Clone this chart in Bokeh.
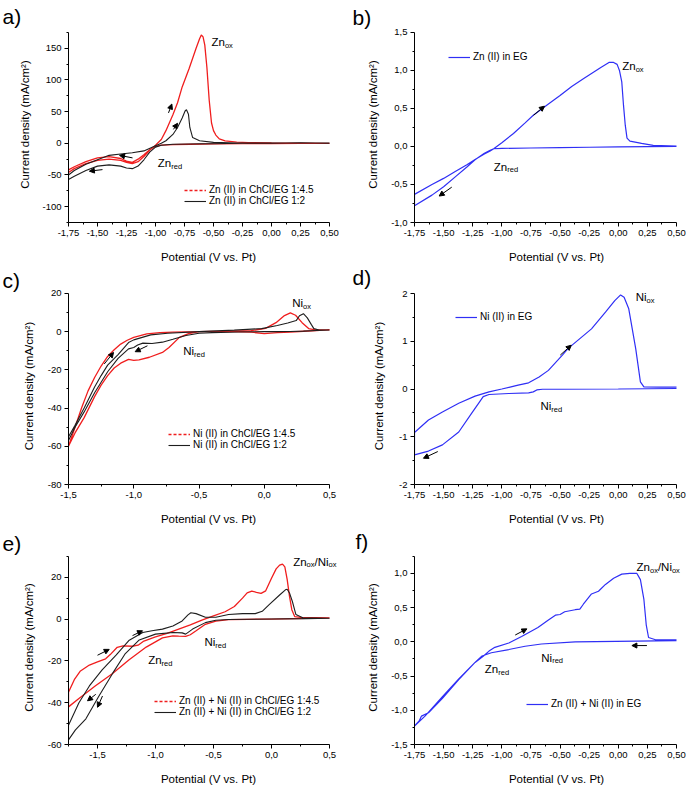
from bokeh.plotting import figure
from bokeh.models import (Range1d, FixedTicker, CustomJSTickFormatter, Label, Legend,
                          LegendItem, Arrow, NormalHead, Title)
from bokeh.layouts import column, row
from bokeh.embed import file_html
from bokeh.resources import INLINE

FONT = "Liberation Sans"
RED = "#f01e1e"
BLACK = "#1e1e1e"
BLUE = "#2f2ff5"

# ---------------- data (V vs Pt, mA/cm2) ----------------
# a) Zn(II) in ChCl/EG
a_red_cat_x = [0.50, 0.25, 0.00, -0.25, -0.50, -0.70, -0.85, -0.95, -1.00, -1.05, -1.10, -1.15, -1.20, -1.25, -1.30, -1.40, -1.50, -1.60, -1.70, -1.75]
a_red_cat_y = [0.0, 0.0, -0.3, -0.6, -1.0, -1.5, -2.0, -3.0, -5.0, -10.0, -18.0, -25.0, -30.0, -28.0, -24.0, -21.0, -23.0, -29.0, -37.0, -42.0]
a_red_an_x = [-1.75, -1.70, -1.60, -1.50, -1.40, -1.30, -1.25, -1.20, -1.15, -1.10, -1.05, -1.00, -0.95, -0.91, -0.85, -0.81, -0.77, -0.71, -0.65, -0.62, -0.605, -0.59, -0.575, -0.557, -0.537, -0.517, -0.50, -0.48, -0.45, -0.40, -0.30, -0.20, 0.00, 0.25, 0.50]
a_red_an_y = [-46, -40, -32, -27, -25, -27, -30, -32, -29, -21, -11, -3, 6, 20, 45, 64, 89, 118, 150, 165, 171, 168, 155, 120, 68, 32, 20, 13, 7, 4, 2, 1.2, 0.6, 0.3, 0.0]
a_blk_cat_x = [0.50, 0.25, 0.00, -0.25, -0.50, -0.70, -0.85, -0.95, -1.00, -1.05, -1.10, -1.15, -1.20, -1.25, -1.30, -1.40, -1.50, -1.60, -1.70, -1.75]
a_blk_cat_y = [0.5, 0.8, 0.5, 0.0, -0.5, -1.0, -1.5, -3.0, -6.0, -14.0, -26.0, -36.0, -40.0, -39.0, -36.0, -34.0, -36.0, -43.0, -52.0, -57.0]
a_blk_an_x = [-1.75, -1.70, -1.60, -1.50, -1.40, -1.30, -1.20, -1.10, -1.00, -0.95, -0.91, -0.85, -0.81, -0.77, -0.745, -0.733, -0.716, -0.704, -0.68, -0.62, -0.50, -0.30, 0.00, 0.25, 0.50]
a_blk_an_y = [-50, -43, -33, -26, -19, -17, -15, -12, -4, 0, 4, 14, 25, 40, 51, 53, 46, 25, 9, 4, 1.5, 0.5, 0.2, 0.8, 0.0]

# b) Zn(II) in EG
b_cat_x = [0.50, 0.25, 0.00, -0.25, -0.50, -0.75, -1.00, -1.07, -1.10, -1.15, -1.23, -1.30, -1.40, -1.50, -1.60, -1.75]
b_cat_y = [0.0, -0.003, -0.006, -0.01, -0.015, -0.02, -0.025, -0.03, -0.05, -0.09, -0.175, -0.27, -0.40, -0.53, -0.64, -0.78]
b_an_x = [-1.75, -1.60, -1.50, -1.40, -1.30, -1.23, -1.15, -1.10, -1.07, -1.00, -0.90, -0.80, -0.73, -0.60, -0.50, -0.40, -0.30, -0.20, -0.15, -0.08, -0.04, -0.01, 0.01, 0.03, 0.045, 0.06, 0.075, 0.10, 0.20, 0.30, 0.50]
b_an_y = [-0.63, -0.50, -0.42, -0.33, -0.24, -0.17, -0.10, -0.06, -0.03, 0.05, 0.17, 0.31, 0.41, 0.56, 0.67, 0.79, 0.89, 0.99, 1.04, 1.105, 1.105, 1.08, 1.0, 0.85, 0.54, 0.28, 0.11, 0.07, 0.04, 0.015, 0.005]

# c) Ni(II) in ChCl/EG
c_red_cat_x = [0.50, 0.45, 0.40, 0.30, 0.20, 0.10, 0.00, -0.10, -0.30, -0.50, -0.58, -0.65, -0.73, -0.78, -0.88, -0.96, -1.00, -1.04, -1.10, -1.15, -1.20, -1.25, -1.30, -1.38, -1.45, -1.50]
c_red_cat_y = [1.0, 0.8, 0.5, 0.2, -0.2, -0.5, -1.0, -0.3, 0.2, 0.0, -1.0, -3.0, -8.3, -10.9, -13.4, -14.8, -15.0, -14.5, -16.5, -19.0, -23.0, -28.0, -34.0, -45.0, -53.0, -60.0]
c_red_an_x = [-1.50, -1.45, -1.40, -1.35, -1.30, -1.25, -1.20, -1.15, -1.10, -1.05, -1.00, -0.90, -0.80, -0.70, -0.50, -0.30, -0.10, 0.01, 0.09, 0.155, 0.20, 0.24, 0.29, 0.34, 0.39, 0.50]
c_red_an_y = [-60, -50, -40, -31, -24, -18, -13, -9.5, -6.5, -4.5, -3.0, -1.2, -0.5, -0.2, 0.0, 0.2, 0.5, 1.7, 4.7, 8.4, 9.8, 8.6, 4.7, 1.6, 0.9, 0.9]
c_blk_cat_x = [0.50, 0.40, 0.30, 0.20, 0.10, 0.00, -0.20, -0.40, -0.50, -0.60, -0.70, -0.78, -0.86, -0.93, -0.97, -1.00, -1.04, -1.12, -1.20, -1.25, -1.30, -1.38, -1.45, -1.50]
c_blk_cat_y = [0.9, 0.6, 0.3, 0.1, 0.0, 0.0, -0.2, -0.5, -0.8, -2.0, -4.0, -5.5, -6.2, -6.0, -7.0, -8.3, -9.0, -14.0, -21.0, -26.5, -32.0, -42.0, -50.0, -57.0]
c_blk_an_x = [-1.50, -1.45, -1.38, -1.30, -1.25, -1.20, -1.12, -1.04, -1.00, -0.87, -0.74, -0.50, -0.23, -0.02, 0.10, 0.18, 0.245, 0.27, 0.30, 0.33, 0.36, 0.38, 0.42, 0.50]
c_blk_an_y = [-55, -49, -40, -29, -23, -17.5, -12, -5.7, -4.3, -1.7, -0.8, 0.0, 0.8, 1.6, 3.2, 4.5, 5.8, 8.3, 9.4, 7.2, 3.8, 1.6, 0.9, 0.9]

# d) Ni(II) in EG
d_cat_x = [0.50, 0.00, -0.50, -0.65, -0.70, -0.73, -0.77, -0.94, -1.11, -1.16, -1.20, -1.26, -1.37, -1.51, -1.63, -1.75]
d_cat_y = [0.01, 0.0, -0.005, -0.005, -0.02, -0.06, -0.08, -0.094, -0.115, -0.16, -0.30, -0.51, -0.90, -1.17, -1.30, -1.38]
d_an_x = [-1.75, -1.63, -1.51, -1.37, -1.23, -1.11, -1.00, -0.86, -0.77, -0.68, -0.60, -0.48, -0.43, -0.23, -0.11, -0.03, 0.02, 0.05, 0.09, 0.15, 0.19, 0.22, 0.35, 0.50]
d_an_y = [-0.91, -0.65, -0.48, -0.30, -0.15, -0.06, 0.0, 0.08, 0.13, 0.25, 0.39, 0.71, 0.85, 1.26, 1.61, 1.85, 1.97, 1.92, 1.68, 0.84, 0.15, 0.045, 0.04, 0.04]

# e) Zn(II) + Ni(II) in ChCl/EG
e_red_cat_x = [0.50, 0.30, 0.00, -0.20, -0.37, -0.48, -0.57, -0.65, -0.70, -0.74, -0.80, -0.85, -0.94, -1.08, -1.23, -1.37, -1.52, -1.66, -1.75]
e_red_cat_y = [0.6, 0.3, 0.0, -0.1, -0.3, -1.0, -2.5, -5.6, -7.5, -8.3, -8.2, -8.0, -9.0, -13.4, -19.6, -26.0, -32.0, -38.0, -42.0]
e_red_an_x = [-1.75, -1.70, -1.65, -1.57, -1.50, -1.43, -1.39, -1.33, -1.28, -1.20, -1.15, -1.10, -1.00, -0.90, -0.80, -0.70, -0.60, -0.50, -0.40, -0.32, -0.25, -0.21, -0.17, -0.13, -0.09, -0.05, 0.00, 0.04, 0.07, 0.095, 0.115, 0.135, 0.155, 0.175, 0.20, 0.25, 0.50]
e_red_an_y = [-35, -29, -25, -22, -20.5, -19, -17, -13.5, -12.8, -13, -12.5, -10.5, -8.5, -6.8, -4.8, -2.8, -0.5, 1.5, 3.5, 6, 10, 12.5, 13.4, 12.8, 12.3, 13.5, 19.5, 24, 25.8, 26.3, 25, 19, 11, 4.5, 1.2, 0.8, 0.6]
e_blk_cat_x = [0.50, 0.30, 0.00, -0.20, -0.37, -0.48, -0.57, -0.68, -0.74, -0.77, -0.85, -1.00, -1.14, -1.26, -1.37, -1.49, -1.60, -1.69, -1.75]
e_blk_cat_y = [0.4, 0.2, 0.0, -0.1, -0.2, -0.6, -1.7, -4.8, -7.2, -6.6, -6.4, -7.2, -10.0, -16.5, -26.0, -37.0, -47.7, -53.0, -57.8]
e_blk_an_x = [-1.75, -1.66, -1.57, -1.46, -1.34, -1.23, -1.11, -1.03, -0.94, -0.85, -0.77, -0.72, -0.695, -0.65, -0.57, -0.48, -0.37, -0.25, -0.14, -0.08, -0.02, 0.07, 0.12, 0.135, 0.155, 0.18, 0.21, 0.27, 0.50]
e_blk_an_y = [-50.8, -40, -32, -24.3, -17.3, -10.3, -6.4, -5.6, -4.8, -3.3, -0.9, 2.0, 3.0, 2.6, 0.9, 0.9, 2.2, 2.6, 2.6, 3.7, 6.9, 11.5, 14.0, 14.3, 12.5, 8.4, 2.2, 0.6, 0.3]

# f) Zn(II) + Ni(II) in EG
f_cat_x = [0.50, -0.37, -0.66, -0.80, -0.94, -1.09, -1.17, -1.23, -1.37, -1.51, -1.63, -1.69, -1.71, -1.75]
f_cat_y = [0.017, 0.0, -0.031, -0.064, -0.112, -0.159, -0.207, -0.30, -0.553, -0.824, -1.037, -1.085, -1.156, -1.227]
f_an_x = [-1.75, -1.66, -1.51, -1.37, -1.23, -1.16, -1.11, -1.06, -0.94, -0.83, -0.69, -0.60, -0.54, -0.50, -0.46, -0.37, -0.33, -0.30, -0.23, -0.17, -0.11, -0.04, 0.03, 0.10, 0.16, 0.19, 0.22, 0.24, 0.26, 0.32, 0.50]
f_an_y = [-1.23, -1.085, -0.80, -0.54, -0.30, -0.21, -0.135, -0.08, -0.017, 0.078, 0.21, 0.32, 0.39, 0.40, 0.44, 0.47, 0.48, 0.55, 0.70, 0.74, 0.84, 0.93, 0.99, 1.0, 1.0, 0.91, 0.62, 0.25, 0.064, 0.031, 0.031]

# ticks
x_ticks_q = [-1.75, -1.5, -1.25, -1.0, -0.75, -0.5, -0.25, 0.0, 0.25, 0.5]
x_minor_q = [-1.625, -1.375, -1.125, -0.875, -0.625, -0.375, -0.125, 0.125, 0.375]
x_ticks_h = [-1.5, -1.0, -0.5, 0.0, 0.5]
x_minor_c = [-1.25, -0.75, -0.25, 0.25]
x_minor_e = [-1.75, -1.25, -0.75, -0.25, 0.25]
a_yticks = [-100, -50, 0, 50, 100, 150]
a_yminor = [-125, -75, -25, 25, 75, 125, 175]
b_yticks = [-1.0, -0.5, 0.0, 0.5, 1.0, 1.5]
b_yminor = [-0.75, -0.25, 0.25, 0.75, 1.25]
c_yticks = [-80, -60, -40, -20, 0, 20]
c_yminor = [-70, -50, -30, -10, 10]
d_yticks = [-2, -1, 0, 1, 2]
d_yminor = [-1.5, -0.5, 0.5, 1.5]
e_yticks = [-60, -40, -20, 0, 20]
e_yminor = [-50, -30, -10, 10, 30]
f_yticks = [-1.5, -1.0, -0.5, 0.0, 0.5, 1.0]
f_yminor = [-1.25, -0.75, -0.25, 0.25, 0.75, 1.25]

# annotations: (parts, x, y_baseline)
a_notes = [(["Zn", "_ox"], -0.517, 159.4), (["Zn", "_red"], -0.98, -31.6)]
b_notes = [(["Zn", "_ox"], 0.034, 1.057), (["Zn", "_red"], -1.069, -0.267)]
c_notes = [(["Ni", "_ox"], 0.214, 14.8), (["Ni", "_red"], -0.621, -10.2)]
d_notes = [(["Ni", "_ox"], 0.149, 1.917), (["Ni", "_red"], -0.668, -0.359)]
e_notes = [(["Zn", "_ox", "/Ni", "_ox"], 0.187, 27.4), (["Ni", "_red"], -0.578, -11.2), (["Zn", "_red"], -1.063, -19.8)]
f_notes = [(["Zn", "_ox", "/Ni", "_ox"], 0.157, 1.094), (["Ni", "_red"], -0.661, -0.235), (["Zn", "_red"], -1.146, -0.40)]

a_arrows = [(-0.888, 48, -0.859, 62), (-0.845, 22, -0.81, 31.6), (-1.198, -23, -1.31, -19), (-1.457, -41.5, -1.57, -44)]
b_arrows = [(-0.728, 0.41, -0.634, 0.53), (-1.43, -0.535, -1.538, -0.652)]
c_arrows = [(-1.226, -16.9, -1.155, -10.9), (-0.895, -7.4, -0.989, -10.5)]
d_arrows = [(-0.498, 0.71, -0.404, 0.917), (-1.55, -1.31, -1.673, -1.45)]
e_arrows = [(-1.198, -7.9, -1.112, -5.6), (-1.5, -17.3, -1.399, -14.5), (-1.515, -36, -1.586, -39.1), (-1.457, -36.8, -1.5, -42.2)]
f_arrows = [(-0.885, 0.10, -0.785, 0.19), (0.246, -0.054, 0.117, -0.054)]

CW = {"Z": .611, "n": .556, "N": .722, "i": .222, "o": .556, "x": .5, "r": .333,
      "e": .556, "d": .556, "/": .278}
MAIN_FS = 11.5
SUB_FS = 7.5
FIG_W = 350
FIG_H = 265


def twidth(s, fs):
    return sum(CW.get(ch, .55) for ch in s) * fs


def make_panel(fx0, fy0, geo, xr, yr, xt, xm, xdec, yt, ym, ydec, ystand,
               letter, l_off, l_stand):
    # geo: frame_left, axis_right, frame_right, axis_top, frame_top, axis_bottom (page px)
    fl, ar, fr, at, ft, ab = geo
    sx = (ar - fl) / (xr[1] - xr[0])
    sy = (ab - at) / (yr[1] - yr[0])
    x_end = xr[1] + (fr - ar) / sx
    y_end = yr[1] + (at - ft) / sy
    p = figure(width=FIG_W, height=FIG_H, output_backend="svg", toolbar_location=None,
               x_range=Range1d(xr[0], x_end), y_range=Range1d(yr[0], y_end),
               min_border_left=fl - fx0, min_border_right=fx0 + FIG_W - fr,
               min_border_top=ft - fy0, min_border_bottom=fy0 + FIG_H - ab)
    p.outline_line_color = None
    p.xgrid.visible = False
    p.ygrid.visible = False
    p.background_fill_color = "white"
    p.border_fill_color = "white"
    p.xaxis.bounds = xr
    p.yaxis.bounds = yr
    p.xaxis.ticker = FixedTicker(ticks=xt, minor_ticks=xm)
    p.yaxis.ticker = FixedTicker(ticks=yt, minor_ticks=ym)
    p.xaxis.formatter = CustomJSTickFormatter(args=dict(d=xdec),
                                              code="return tick.toFixed(d).replace('.', ',');")
    p.yaxis.formatter = CustomJSTickFormatter(args=dict(d=ydec),
                                              code="return tick.toFixed(d).replace('.', ',');")
    p.xaxis.axis_label = "Potential (V vs. Pt)"
    p.yaxis.axis_label = "Current density (mA/cm²)"
    for ax in (p.xaxis, p.yaxis):
        ax.axis_line_color = "black"
        ax.major_tick_line_color = "black"
        ax.minor_tick_line_color = "black"
        ax.major_tick_in = 0
        ax.major_tick_out = 4
        ax.minor_tick_in = 0
        ax.minor_tick_out = 2
        ax.major_label_text_font = FONT
        ax.major_label_text_font_size = "9.5px"
        ax.major_label_text_color = "black"
        ax.major_label_standoff = 3
        ax.axis_label_text_font = FONT
        ax.axis_label_text_font_size = "11.5px"
        ax.axis_label_text_font_style = "normal"
        ax.axis_label_text_color = "black"
    p.xaxis.axis_label_standoff = 12
    p.yaxis.axis_label_standoff = ystand
    p.title = Title(text=letter, align="left", offset=l_off, standoff=l_stand,
                    text_font=FONT, text_font_size="21px", text_font_style="normal",
                    text_color="black")
    return p


def add_notes(p, notes):
    for parts, x, y in notes:
        off = 0.0
        for part in parts:
            if part.startswith("_"):
                t = part[1:]
                p.add_layout(Label(x=x, y=y, x_offset=off, y_offset=-3, text=t,
                                   text_font=FONT, text_font_size=f"{SUB_FS}px",
                                   text_baseline="alphabetic", text_color="black"))
                off += twidth(t, SUB_FS)
            else:
                p.add_layout(Label(x=x, y=y, x_offset=off, text=part,
                                   text_font=FONT, text_font_size=f"{MAIN_FS}px",
                                   text_baseline="alphabetic", text_color="black"))
                off += twidth(part, MAIN_FS)


def add_arrows(p, arrows):
    for x0, y0, x1, y1 in arrows:
        p.add_layout(Arrow(end=NormalHead(size=5, line_color="black", fill_color="black", line_width=1),
                           x_start=x0, y_start=y0, x_end=x1, y_end=y1,
                           line_color="black", line_width=1))


def add_legend(p, items, loc):
    lg = Legend(items=items, location=loc, border_line_color=None, background_fill_alpha=0,
                padding=0, margin=0, spacing=0, glyph_width=22, glyph_height=10,
                label_height=10, label_standoff=3, label_text_font=FONT,
                label_text_font_size="10px", label_text_color="black")
    p.add_layout(lg)


def cv(p, cat_x, cat_y, an_x, an_y, color, lw):
    return p.line(cat_x + an_x, cat_y + an_y, line_color=color, line_width=lw)


def dashed_key(p, xs, ys):
    # one-point line: draws nothing in the plot, only gives the legend its dashed key
    return p.line(xs[:1], ys[:1], line_color=RED, line_width=1.5, line_dash="3 2")


XQ = (-1.75, 0.5)

# ---- a
pa = make_panel(0, 0, (68, 329, 348, 32, 26, 224), XQ, (-125, 175), x_ticks_q, x_minor_q, 2,
                a_yticks, a_yminor, 0, 8, "a)", -66, -3)
cv(pa, a_red_cat_x, a_red_cat_y, a_red_an_x, a_red_an_y, RED, 1.3)
ra_blk = cv(pa, a_blk_cat_x, a_blk_cat_y, a_blk_an_x, a_blk_an_y, BLACK, 1.1)
la_red = dashed_key(pa, a_red_cat_x, a_red_cat_y)
add_legend(pa, [LegendItem(label="Zn (II) in ChCl/EG 1:4.5", renderers=[la_red]),
                LegendItem(label="Zn (II) in ChCl/EG 1:2", renderers=[ra_blk])], (116, 16))
add_notes(pa, a_notes)
add_arrows(pa, a_arrows)

# ---- b
pb = make_panel(350, 0, (414, 676, 698, 31, 25, 223), XQ, (-1.0, 1.5), x_ticks_q, x_minor_q, 2,
                b_yticks, b_yminor, 1, 9, "b)", -62, -4)
rb = cv(pb, b_cat_x, b_cat_y, b_an_x, b_an_y, BLUE, 1.2)
add_legend(pb, [LegendItem(label="Zn (II) in EG", renderers=[rb])], (34, 160))
add_notes(pb, b_notes)
add_arrows(pb, b_arrows)

# ---- c
pc = make_panel(0, 265, (68, 329, 348, 292, 286, 485), (-1.5, 0.5), (-80, 20), x_ticks_h, x_minor_c, 1,
                c_yticks, c_yminor, 0, 10, "c)", -66, -9)
cv(pc, c_red_cat_x, c_red_cat_y, c_red_an_x, c_red_an_y, RED, 1.3)
rc_blk = cv(pc, c_blk_cat_x, c_blk_cat_y, c_blk_an_x, c_blk_an_y, BLACK, 1.1)
lc_red = dashed_key(pc, c_red_cat_x, c_red_cat_y)
add_legend(pc, [LegendItem(label="Ni (II) in ChCl/EG 1:4.5", renderers=[lc_red]),
                LegendItem(label="Ni (II) in ChCl/EG 1:2", renderers=[rc_blk])], (100, 34))
add_notes(pc, c_notes)
add_arrows(pc, c_arrows)

# ---- d
pd_ = make_panel(350, 265, (414, 676, 698, 293, 287, 484), XQ, (-2, 2), x_ticks_q, x_minor_q, 2,
                 d_yticks, d_yminor, 0, 11, "d)", -62, -3)
rd = cv(pd_, d_cat_x, d_cat_y, d_an_x, d_an_y, BLUE, 1.2)
add_legend(pd_, [LegendItem(label="Ni (II) in EG", renderers=[rd])], (41, 162))
add_notes(pd_, d_notes)
add_arrows(pd_, d_arrows)

# ---- e
pe = make_panel(0, 530, (68, 329, 348, 552, 546, 745), XQ, (-60, 30), x_ticks_h, x_minor_e, 1,
                e_yticks, e_yminor, 0, 10, "e)", -66, -9)
cv(pe, e_red_cat_x, e_red_cat_y, e_red_an_x, e_red_an_y, RED, 1.3)
re_blk = cv(pe, e_blk_cat_x, e_blk_cat_y, e_blk_an_x, e_blk_an_y, BLACK, 1.1)
le_red = dashed_key(pe, e_red_cat_x, e_red_cat_y)
add_legend(pe, [LegendItem(label="Zn (II) + Ni (II) in ChCl/EG 1:4.5", renderers=[le_red]),
                LegendItem(label="Zn (II) + Ni (II) in ChCl/EG 1:2", renderers=[re_blk])], (86, 27))
add_notes(pe, e_notes)
add_arrows(pe, e_arrows)

# ---- f
pf = make_panel(350, 530, (414, 676, 698, 551, 545, 744), XQ, (-1.5, 1.25), x_ticks_q, x_minor_q, 2,
                f_yticks, f_yminor, 1, 9, "f)", -59, -5)
rf = cv(pf, f_cat_x, f_cat_y, f_an_x, f_an_y, BLUE, 1.2)
add_legend(pf, [LegendItem(label="Zn (II) + Ni (II) in EG", renderers=[rf])], (112, 35))
add_notes(pf, f_notes)
add_arrows(pf, f_arrows)

layout = column(row(pa, pb), row(pc, pd_), row(pe, pf))
open("out.html", "w").write(file_html(layout, INLINE))
